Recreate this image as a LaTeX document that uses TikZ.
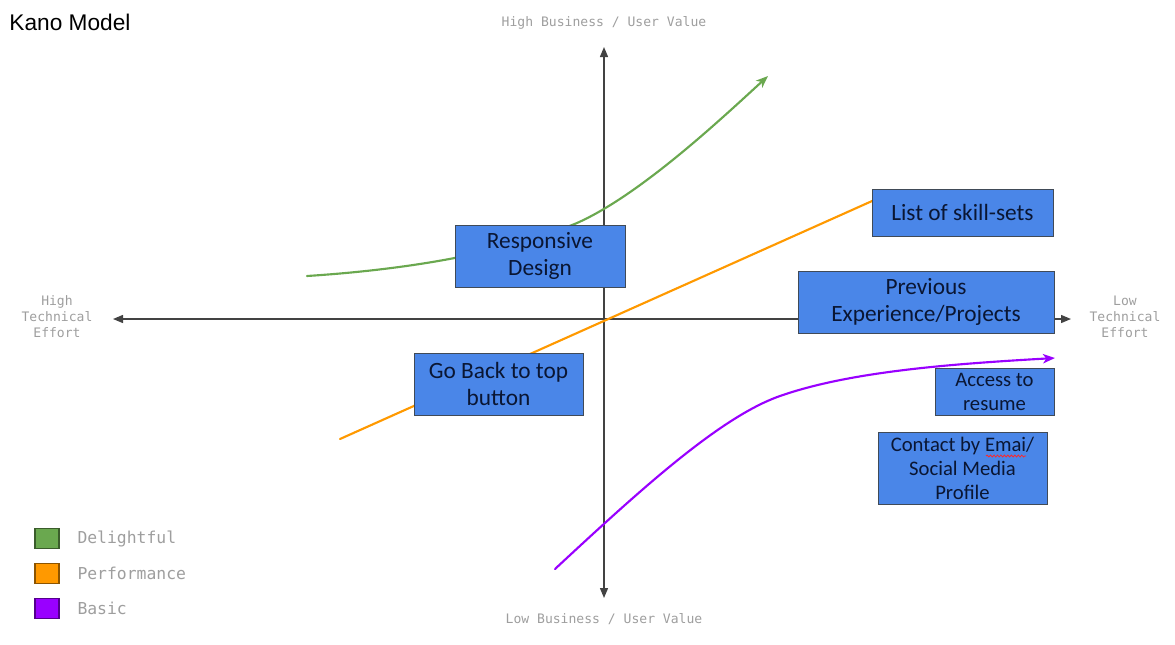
\documentclass[tikz,border=0pt]{standalone}
\usepackage{fontspec}
\setmainfont{Carlito}
\setmonofont{DejaVu Sans Mono}
\newfontfamily\titlefont{Liberation Sans}
\usetikzlibrary{arrows.meta,decorations.pathmorphing}

\definecolor{delightgreen}{HTML}{6AA84F}
\definecolor{perforange}{HTML}{FF9900}
\definecolor{basicpurple}{HTML}{9900FF}
\definecolor{featblue}{HTML}{4A86E8}
\definecolor{boxborder}{HTML}{404A57}
\definecolor{axisgray}{HTML}{434343}
\definecolor{labelgray}{HTML}{9E9E9E}
\definecolor{textdark}{HTML}{0A1633}

\tikzset{every picture/.style={line width=0.75pt}}
\tikzset{
  axis/.style={draw=axisgray, line width=1pt,
    {Triangle[length=7.5pt,width=6pt]}-{Triangle[length=7.5pt,width=6pt]}},
  axislabel/.style={font=\ttfamily\fontsize{9.8}{12}\selectfont, text=labelgray,
    align=center, inner sep=0pt},
  feature/.style={draw=boxborder, fill=featblue, text=textdark, align=center,
    inner sep=0pt, font=\fontsize{17.5}{20.5}\selectfont},
  smallfeature/.style={feature, font=\fontsize{15.5}{18}\selectfont},
  curve/.style={line width=1.6pt, line cap=round},
  tip/.style={-{Stealth[length=9pt,width=7pt,inset=2.5pt]}},
  swatch/.style={minimum width=18pt, minimum height=15pt, inner sep=0pt, line width=0.9pt},
  legendtext/.style={font=\ttfamily\fontsize{12.3}{14}\selectfont, text=labelgray,
    anchor=west, inner sep=0pt},
  spellcheck/.style={draw=red!85, line width=0.6pt, decorate,
    decoration={snake, amplitude=0.7pt, segment length=2.6pt}}
}

\begin{document}
\begin{tikzpicture}[x=0.75pt, y=-0.75pt]
    \useasboundingbox (0,0) rectangle (1175,644);
    \node[anchor=base west, inner sep=0pt, font=\titlefont\fontsize{17}{20}\selectfont] (title) at (9,30) {Kano Model};

    % axes
    \coordinate (vtop) at (604,47);
    \coordinate (vbot) at (604,598);
    \coordinate (hleft) at (113,319);
    \coordinate (hright) at (1071,319);
    \draw[axis] (vtop) -- (vbot);
    \draw[axis] (hleft) -- (hright);
    \node[axislabel] (highval) at (604,23) {High Business / User Value};
    \node[axislabel] (lowval) at (604,619) {Low Business / User Value};
    \node[axislabel] (higheff) at (57,317) {High\\Technical\\Effort};
    \node[axislabel] (loweff) at (1125,317) {Low\\Technical\\Effort};

    % curves
    \draw[curve, tip, delightgreen] (307,276) .. controls (400,270) and (500,255) .. (577,223)
        .. controls (640,195) and (720,120) .. (768,76);
    \draw[curve, perforange] (340,439) -- (890,193);
    \draw[curve, tip, basicpurple] (555,569) .. controls (640,490) and (720,417) .. (780,396)
        .. controls (850,371.5) and (950,364) .. (1055,358);

    % features
    \node[feature, minimum width=127.5pt, minimum height=46.5pt] (resp) at (540,256) {Responsive\\Design};
    \node[feature, minimum width=135.75pt, minimum height=35.25pt] (skills) at (962.5,212.5) {List of skill-sets};
    \node[feature, minimum width=192pt, minimum height=46.5pt] (prev) at (926,302) {Previous\\Experience/Projects};
    \node[feature, minimum width=126.75pt, minimum height=46.5pt] (goback) at (498.5,384) {Go Back to top\\button};
    \node[smallfeature, minimum width=89.25pt, minimum height=35.25pt] (resume) at (994.5,391.5) {Access to\\resume};
    \node[smallfeature, minimum width=126.75pt, minimum height=54pt] (contact) at (962.5,468) {Contact by Emai/\\Social Media\\Profile};
    \draw[spellcheck] (986,456) -- (1026,456);

    % legend
    \node[swatch, fill=delightgreen, draw=delightgreen!55!black] (lgreen) at (47,538.5) {};
    \node[swatch, fill=perforange, draw=perforange!55!black] (lorange) at (47,573.5) {};
    \node[swatch, fill=basicpurple, draw=basicpurple!55!black] (lpurple) at (47,608.5) {};
    \node[legendtext] (tgreen) at (77,538.5) {Delightful};
    \node[legendtext] (torange) at (77,573.5) {Performance};
    \node[legendtext] (tpurple) at (77,608.5) {Basic};
\end{tikzpicture}
\end{document}
